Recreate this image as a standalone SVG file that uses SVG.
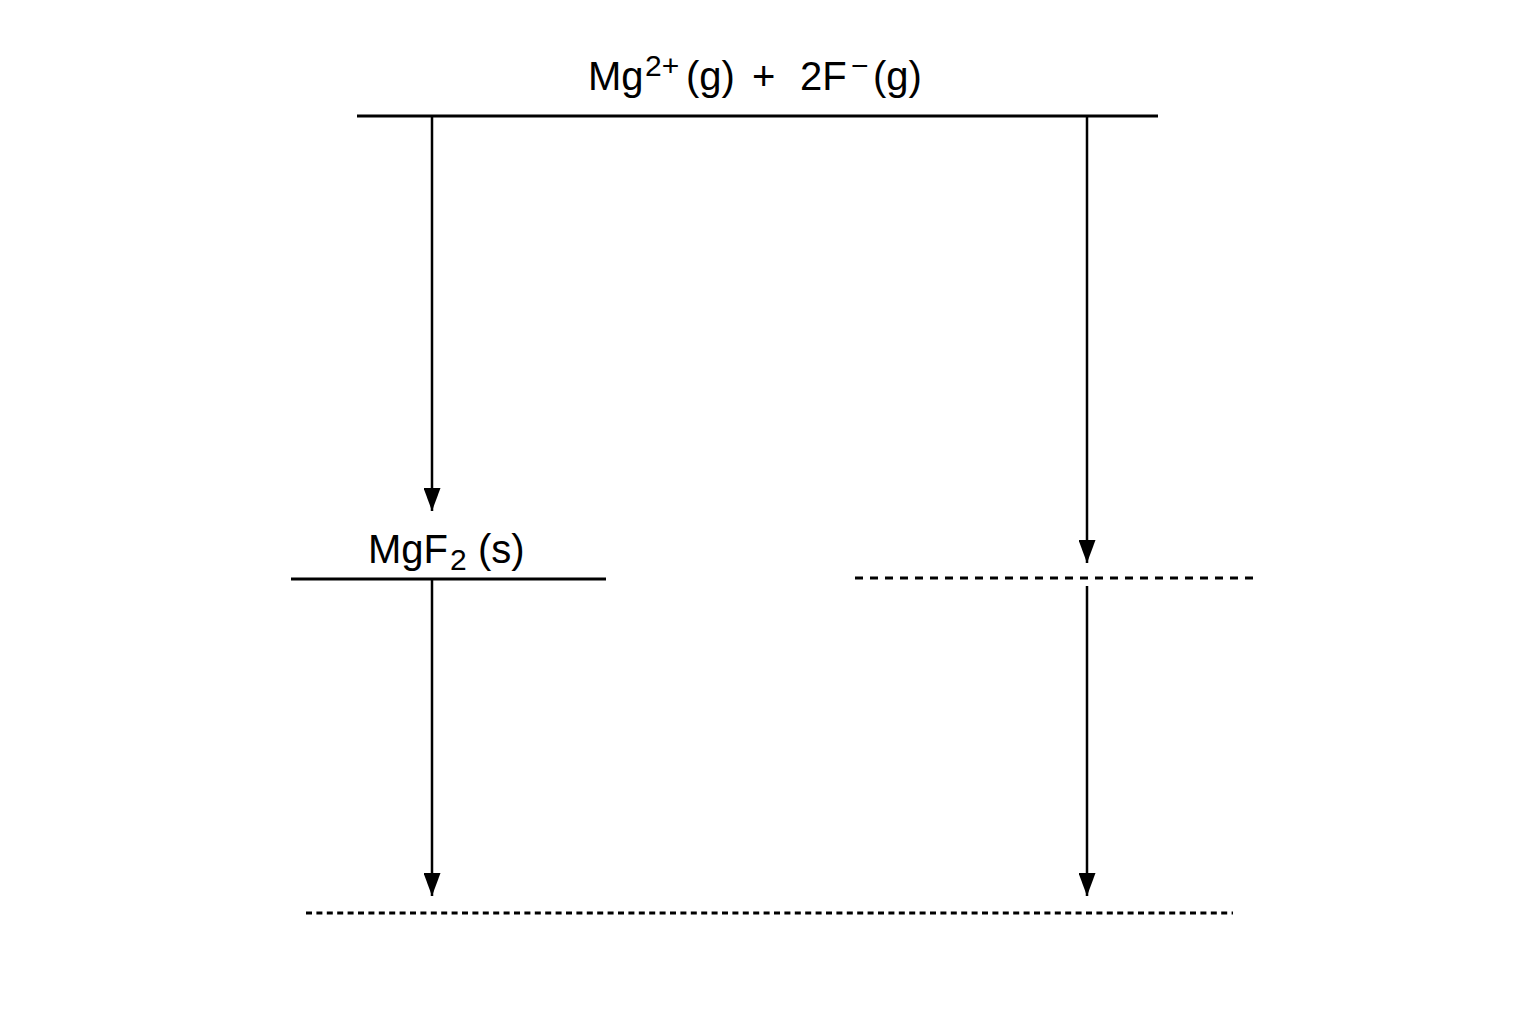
<svg xmlns="http://www.w3.org/2000/svg" width="1536" height="1024" viewBox="0 0 1536 1024">
<defs>
<marker id="ah" markerWidth="23" markerHeight="17" refX="23" refY="8.5" orient="auto" markerUnits="userSpaceOnUse" viewBox="0 0 23 17">
<path d="M0,0 L23,8.5 L0,17 Z" fill="#000"/>
</marker>
</defs>
<style>
.lvl{stroke:#000;stroke-width:3;fill:none}
.dash{stroke:#000;stroke-width:3;stroke-dasharray:8 7;fill:none}
.dot{stroke:#000;stroke-width:3;stroke-dasharray:6 4.4;fill:none}
.arr{stroke:#000;stroke-width:2.5;fill:none;marker-end:url(#ah)}
text{font-family:"Liberation Sans",Arial,sans-serif;fill:#000;font-size:40px}
.sup{font-size:30px}
</style>
<rect width="1536" height="1024" fill="#fff"/>
<g id="level-gas">
<line class="lvl" x1="357" y1="116" x2="1158" y2="116"/>
<text y="90"><tspan x="588">Mg</tspan><tspan class="sup" x="645" y="76">2+</tspan><tspan x="686" y="90">(g)</tspan><tspan x="752">+</tspan><tspan x="800">2F</tspan><tspan class="sup" x="851" y="76">−</tspan><tspan x="873" y="90">(g)</tspan></text>
</g>
<g id="level-mgf2">
<line class="lvl" x1="291" y1="579" x2="606" y2="579"/>
<text y="563"><tspan x="368">MgF</tspan><tspan class="sup" x="450" y="570">2</tspan><tspan x="478" y="563">(s)</tspan></text>
</g>
<g id="level-mid-dashed">
<line class="dash" x1="855" y1="578" x2="1254" y2="578"/>
</g>
<g id="level-bottom-dotted">
<line class="dot" x1="306" y1="913" x2="1233" y2="913"/>
</g>
<g id="connectors">
<line class="arr" x1="432" y1="117" x2="432" y2="511"/>
<line class="arr" x1="432" y1="580" x2="432" y2="896"/>
<line class="arr" x1="1087" y1="117" x2="1087" y2="563"/>
<line class="arr" x1="1087" y1="586" x2="1087" y2="896"/>
</g>
</svg>
